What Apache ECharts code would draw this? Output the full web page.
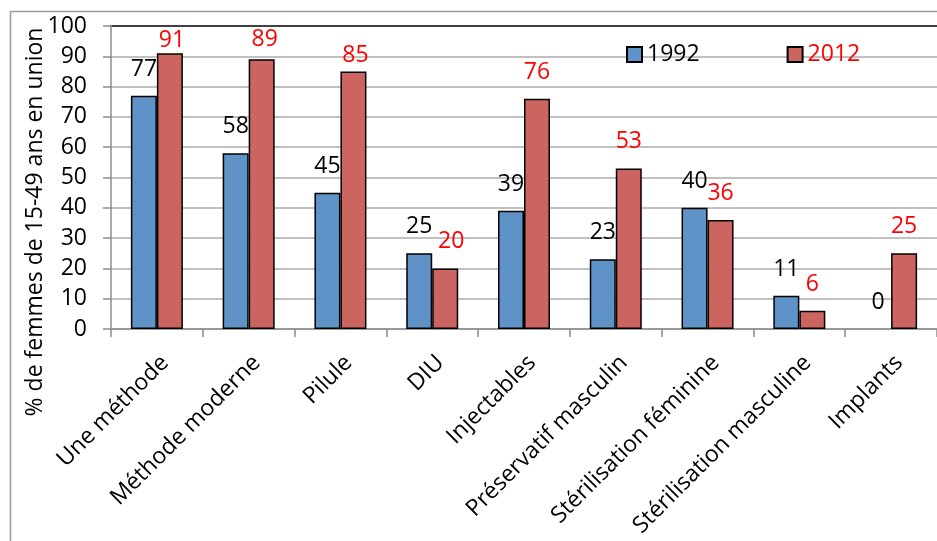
<!DOCTYPE html>
<html>
<head>
<meta charset="utf-8">
<script src="https://cdn.jsdelivr.net/npm/echarts@6/dist/echarts.min.js"></script>
<style>
html,body{margin:0;padding:0;background:#fff;}
#chart{width:937px;height:541px;}
</style>
</head>
<body>
<div id="chart"></div>
<script>
const categories = ['Une méthode','Méthode moderne','Pilule','DIU','Injectables','Préservatif masculin','Stérilisation féminine','Stérilisation masculine','Implants'];
const values1992 = [77,58,45,25,39,23,40,11,0];
const values2012 = [91,89,85,20,76,53,36,6,25];
const seriesNames = ['1992','2012'];
const yAxisTitle = '% de femmes de 15-49 ans en union';
const yMin = 0, yMax = 100, yStep = 10;

const FONT = '"Open Sans", "DejaVu Sans", sans-serif';
const FS = 23;
const BLUE = '#5F93C7';
const RED = '#CC6460';

// label nudges for a few 2012 labels (placed lower in the original)
const nudge2012 = {0:[2,14],1:[3,7],2:[2,11],3:[6,0]};

function toItems(vals, nudges){
  return vals.map((v,i)=>{
    const item = {value:v};
    if (nudges && nudges[i]) item.label = {offset:nudges[i]};
    if (v === 0) item.itemStyle = {borderWidth:0};
    return item;
  });
}

const nLines = Math.round((yMax - yMin)/yStep) + 1;
const splitColors = [];
for (let i=0;i<nLines;i++) splitColors.push(i===nLines-1 ? '#000000' : '#ABABAB');

const chart = echarts.init(document.getElementById('chart'));
chart.setOption({
  animation:false,
  backgroundColor:'#ffffff',
  textStyle:{fontFamily:FONT},
  grid:{left:111, right:-2, top:26, bottom:541-329, containLabel:false},
  legend:{
    left:621, top:38, itemWidth:15, itemHeight:15, itemGap:87,
    icon:'rect',
    textStyle:{fontFamily:FONT, fontSize:FS, color:'#000'},
    data:[{name:seriesNames[0], textStyle:{color:'#000000'}},{name:seriesNames[1], textStyle:{color:'#FF0000'}}]
  },
  graphic:[
    {type:'rect', z:-10, silent:true, shape:{x:10.5,y:11.5,width:1000,height:1000}, style:{fill:'none', stroke:'#9A9A9A', lineWidth:1.5}},
    {type:'text', x:35, y:222, rotation:Math.PI/2, style:{text:yAxisTitle, font:FS+'px '+FONT, fill:'#000', textAlign:'center', textVerticalAlign:'middle'}}
  ],
  xAxis:{
    type:'category', data:categories,
    axisLine:{lineStyle:{color:'#8C8C8C', width:1.5}},
    axisTick:{show:true, length:8, lineStyle:{color:'#8C8C8C', width:1.5}},
    axisLabel:{rotate:45, margin:22, verticalAlign:'top', color:'#000', fontSize:FS, fontFamily:FONT, interval:0}
  },
  yAxis:{
    type:'value', min:yMin, max:yMax, interval:yStep,
    axisLine:{show:true, lineStyle:{color:'#8C8C8C', width:1.5}},
    axisTick:{show:true, length:8, lineStyle:{color:'#8C8C8C', width:1.5}},
    axisLabel:{margin:24, color:'#000', fontSize:FS, fontFamily:FONT},
    splitLine:{show:true, lineStyle:{color:splitColors, width:1.5}}
  },
  series:[
    {name:seriesNames[0], type:'bar', data:toItems(values1992), barWidth:26, barGap:'0%',
     itemStyle:{color:BLUE, borderColor:'#000', borderWidth:1.5},
     label:{show:true, position:'top', distance:15, color:'#000', fontSize:FS, fontFamily:FONT}},
    {name:seriesNames[1], type:'bar', data:toItems(values2012, nudge2012), barWidth:26, barGap:'0%',
     itemStyle:{color:RED, borderColor:'#000', borderWidth:1.5},
     label:{show:true, position:'top', distance:15, color:'#FF0000', fontSize:FS, fontFamily:FONT}}
  ]
});
</script>
</body>
</html>
